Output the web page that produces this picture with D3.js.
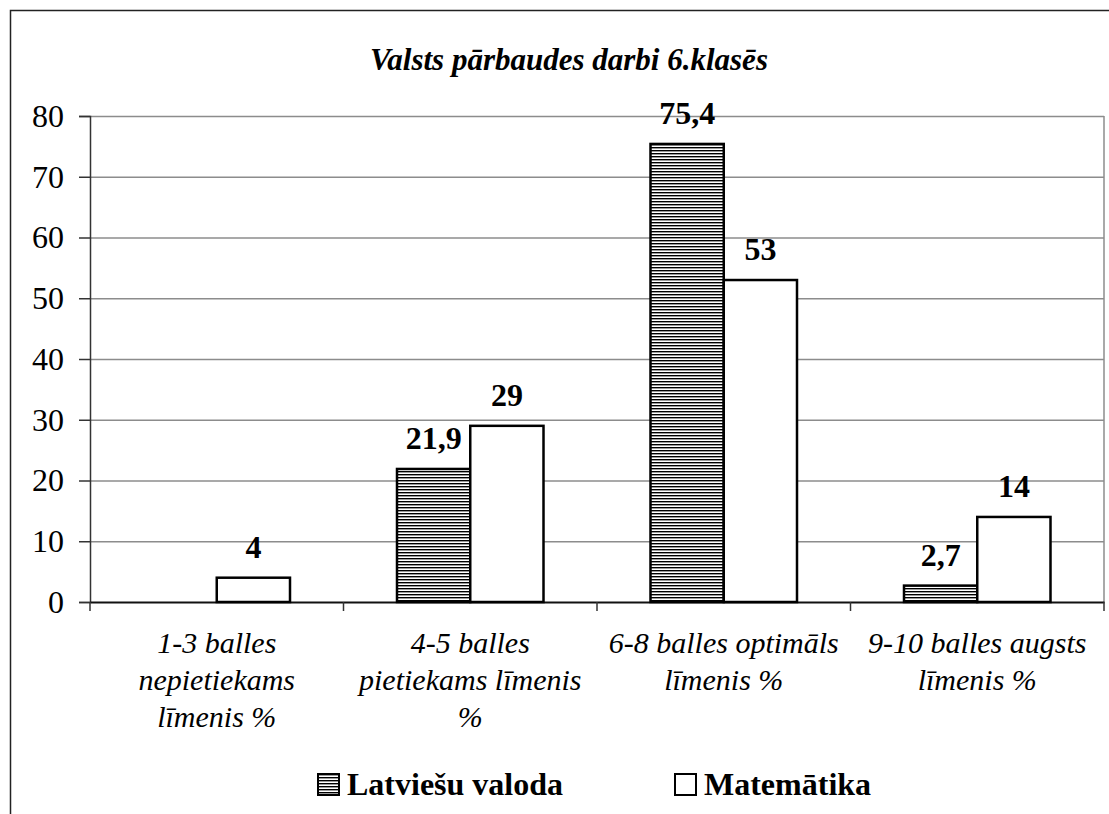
<!DOCTYPE html>
<html>
<head>
<meta charset="utf-8">
<script src="https://cdn.jsdelivr.net/npm/d3@7"></script>
<style>
  body { margin: 0; background: #fff; }
  text { font-family: "Liberation Serif", "Times New Roman", serif; }
</style>
</head>
<body>
<svg id="chart" width="1109" height="814"></svg>
<script>
// data
const title = 'Valsts pārbaudes darbi 6.klasēs';
const categories = [
  '1-3 balles nepietiekams līmenis %',
  '4-5 balles pietiekams līmenis %',
  '6-8 balles optimāls līmenis %',
  '9-10 balles augsts līmenis %',
];
const seriesNames = ['Latviešu valoda', 'Matemātika'];
const latvianValues = [null, 21.9, 75.4, 2.7];
const mathValues = [4, 29, 53, 14];
const yTicks = [0, 10, 20, 30, 40, 50, 60, 70, 80];

const FONT = '"Liberation Serif", "Times New Roman", serif';
const plot = { left: 90, right: 1104, top: 116, bottom: 602 };

const svg = d3.select('#chart');

// hatch pattern for Latvian bars
const defs = svg.append('defs');
const pat = defs.append('pattern')
  .attr('id', 'hatch')
  .attr('patternUnits', 'userSpaceOnUse')
  .attr('width', 6)
  .attr('height', 3);
pat.append('rect').attr('width', 6).attr('height', 3).attr('fill', '#fff');
pat.append('rect').attr('y', 0).attr('width', 6).attr('height', 1).attr('fill', '#000');
pat.append('rect').attr('y', 1).attr('width', 6).attr('height', 1).attr('fill', '#9a9a9a');

const fills = ['url(#hatch)', '#fff'];

// chart border (runs off the page on the right and bottom)
svg.append('rect')
  .attr('x', 10.5).attr('y', 10.5)
  .attr('width', 1200).attr('height', 1000)
  .attr('fill', 'none')
  .attr('stroke', '#222')
  .attr('stroke-width', 1.5);

const x = d3.scaleBand()
  .domain(categories)
  .range([plot.left, plot.right]);

const inner = d3.scaleBand()
  .domain(seriesNames)
  .range([53.5, x.bandwidth() - 53.5]);

const y = d3.scaleLinear()
  .domain([0, 80])
  .range([plot.bottom, plot.top]);

// gridlines
svg.append('g')
  .selectAll('line')
  .data(yTicks.filter(d => d > 0))
  .join('line')
  .attr('x1', plot.left).attr('x2', plot.right)
  .attr('y1', d => y(d) + 0.5).attr('y2', d => y(d) + 0.5)
  .attr('stroke', '#8c8c8c')
  .attr('stroke-width', 1.5);

// right edge of plot area
svg.append('line')
  .attr('x1', plot.right).attr('x2', plot.right)
  .attr('y1', plot.top).attr('y2', plot.bottom)
  .attr('stroke', '#8c8c8c')
  .attr('stroke-width', 1.5);

// y axis
const yAxis = svg.append('g')
  .attr('transform', `translate(${plot.left},0)`)
  .call(d3.axisLeft(y).tickValues(yTicks).tickSize(11).tickPadding(15));
yAxis.attr('font-family', FONT);
yAxis.select('.domain').attr('stroke', '#333').attr('stroke-width', 1.5);
yAxis.selectAll('.tick line').attr('stroke', '#333').attr('stroke-width', 1.5);
yAxis.selectAll('.tick text')
  .attr('font-family', FONT)
  .attr('font-size', 32)
  .attr('fill', '#000');

// x axis
const xAxis = svg.append('g')
  .attr('transform', `translate(0,${plot.bottom})`)
  .call(d3.axisBottom(x).tickSize(0).tickFormat(''));
xAxis.select('.domain').attr('stroke', '#111').attr('stroke-width', 2);

const bounds = categories.map(c => x(c)).concat([plot.right]);
svg.append('g')
  .selectAll('line')
  .data(bounds)
  .join('line')
  .attr('x1', d => d).attr('x2', d => d)
  .attr('y1', plot.bottom).attr('y2', plot.bottom + 9)
  .attr('stroke', '#333')
  .attr('stroke-width', 1.5);

// bars
const seriesValues = [latvianValues, mathValues];
seriesNames.forEach((name, s) => {
  const rows = categories.map((c, i) => ({ c, v: seriesValues[s][i] }))
    .filter(d => d.v !== null);
  const g = svg.append('g');
  g.selectAll('rect')
    .data(rows)
    .join('rect')
    .attr('x', d => x(d.c) + inner(name))
    .attr('y', d => y(d.v))
    .attr('width', inner.bandwidth())
    .attr('height', d => y(0) - y(d.v))
    .attr('fill', fills[s])
    .attr('stroke', '#000')
    .attr('stroke-width', 2.5);

  g.selectAll('text')
    .data(rows)
    .join('text')
    .attr('x', d => x(d.c) + inner(name) + inner.bandwidth() / 2)
    .attr('y', d => y(d.v) - 20)
    .attr('text-anchor', 'middle')
    .attr('font-family', FONT)
    .attr('font-size', 32)
    .attr('font-weight', 'bold')
    .text(d => String(d.v).replace('.', ','));
});

// category labels, wrapped to the band width
const catLabels = svg.append('g')
  .selectAll('text')
  .data(categories)
  .join('text')
  .attr('x', d => x(d) + x.bandwidth() / 2)
  .attr('y', 653)
  .attr('text-anchor', 'middle')
  .attr('font-family', FONT)
  .attr('font-size', 30)
  .attr('font-style', 'italic');

catLabels.each(function (d) {
  const el = d3.select(this);
  const cx = x(d) + x.bandwidth() / 2;
  const words = d.split(' ');
  let line = [];
  let tspan = el.append('tspan').attr('x', cx).attr('dy', 0);
  words.forEach(w => {
    line.push(w);
    tspan.text(line.join(' '));
    if (tspan.node().getComputedTextLength() > x.bandwidth() - 4 && line.length > 1) {
      line.pop();
      tspan.text(line.join(' '));
      line = [w];
      tspan = el.append('tspan').attr('x', cx).attr('dy', 37).text(w);
    }
  });
});

// title
svg.append('text')
  .attr('x', 569)
  .attr('y', 70)
  .attr('text-anchor', 'middle')
  .attr('font-family', FONT)
  .attr('font-size', 31)
  .attr('font-weight', 'bold')
  .attr('font-style', 'italic')
  .text(title);

// legend
const legendX = [317, 674];
const legend = svg.append('g')
  .selectAll('g')
  .data(seriesNames)
  .join('g')
  .attr('transform', (d, i) => `translate(${legendX[i]},0)`);
legend.append('rect')
  .attr('x', 1).attr('y', 774)
  .attr('width', 21).attr('height', 21)
  .attr('fill', (d, i) => fills[i])
  .attr('stroke', '#000')
  .attr('stroke-width', 2);
legend.append('text')
  .attr('x', 30)
  .attr('y', 795)
  .attr('font-family', FONT)
  .attr('font-size', 32)
  .attr('font-weight', 'bold')
  .text(d => d);
</script>
</body>
</html>
